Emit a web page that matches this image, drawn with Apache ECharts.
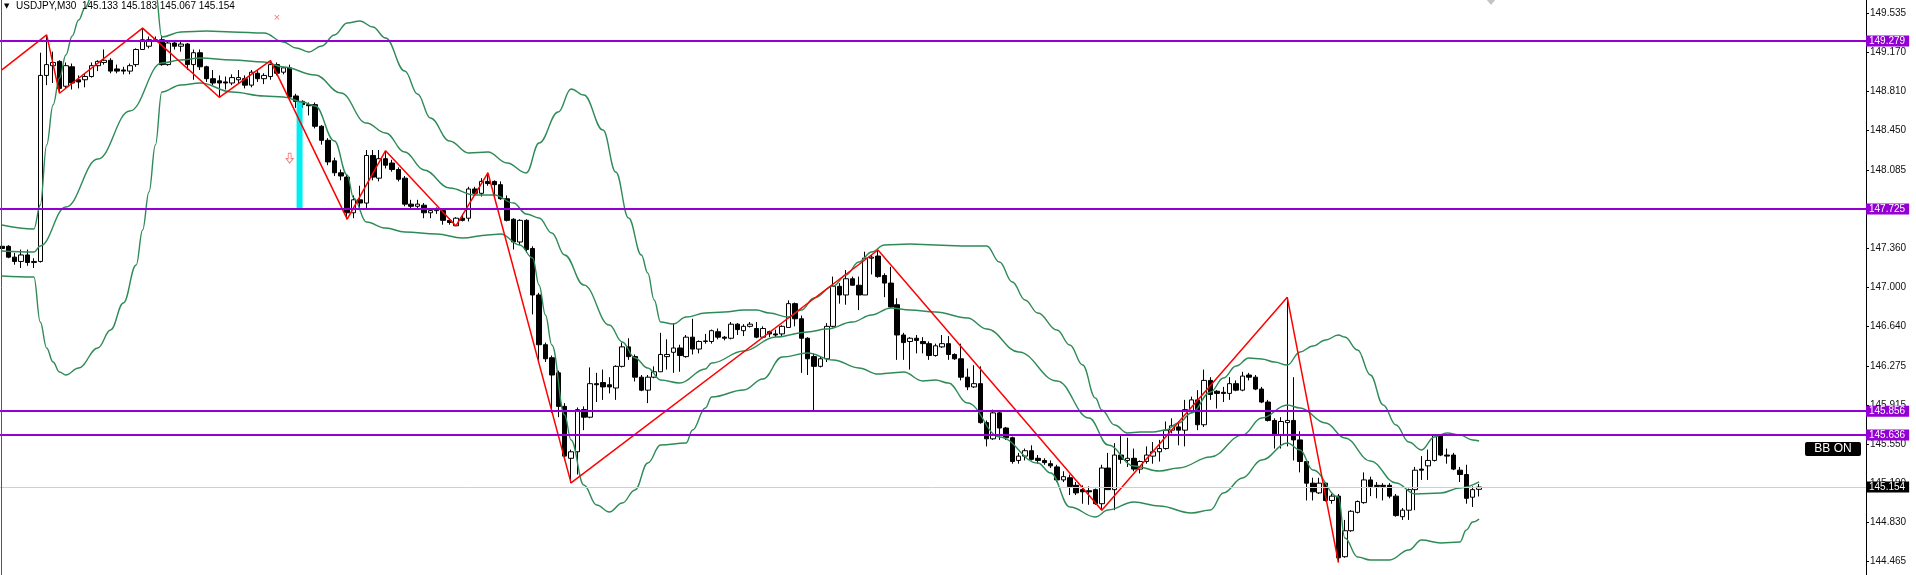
<!DOCTYPE html>
<html>
<head>
<meta charset="utf-8">
<title>USDJPY,M30</title>
<script src="https://cdn.jsdelivr.net/npm/echarts@6/dist/echarts.min.js"></script>
<style>
  html, body { margin: 0; padding: 0; background: #fff; }
  #chart { width: 1916px; height: 575px; }
</style>
</head>
<body>
<div id="chart"></div>
<script>
// header
const symbolTitle = 'USDJPY,M30';
const lastQuote = ['145.133', '145.183', '145.067', '145.154'];

// 30 min bars (oldest first)
const opens = [
  147.38,147.38,147.28,147.24,147.30,147.23,147.24,148.96,149.05,149.09,
  148.86,149.04,148.92,148.92,148.95,149.05,149.08,149.10,149.02,149.01,
  149.00,149.06,149.20,149.23,149.29,149.29,149.06,149.26,149.23,149.25,
  149.06,149.17,149.04,148.93,148.91,148.90,148.89,148.92,148.93,148.87,
  148.98,148.93,148.95,149.06,148.99,149.03,148.77,148.72,148.69,148.69,
  148.49,148.36,148.17,148.06,148.02,147.69,147.81,147.78,148.22,148.01,
  148.19,148.15,148.09,148.01,147.77,147.75,147.76,147.69,147.71,147.71,
  147.62,147.57,147.64,147.64,147.91,147.87,147.98,147.98,147.95,147.82,
  147.63,147.42,147.62,147.36,146.93,146.47,146.35,146.21,145.90,145.42,
  145.48,145.87,145.80,146.11,146.12,146.10,146.07,146.27,146.45,146.36,
  146.17,146.05,146.17,146.22,146.36,146.40,146.44,146.36,146.54,146.43,
  146.50,146.50,146.59,146.54,146.53,146.66,146.60,146.64,146.62,146.54,
  146.59,146.57,146.57,146.63,146.85,146.71,146.53,146.36,146.27,146.34,
  146.64,147.01,146.93,147.08,147.02,146.93,147.27,147.29,147.11,147.04,
  146.84,146.56,146.50,146.53,146.50,146.48,146.37,146.45,146.48,146.38,
  146.34,146.17,146.08,146.11,145.75,145.60,145.84,145.70,145.61,145.40,
  145.44,145.49,145.42,145.40,145.37,145.34,145.22,145.24,145.17,145.13,
  145.12,145.13,145.00,145.33,145.13,145.45,145.40,145.42,145.32,145.39,
  145.44,145.48,145.51,145.68,145.71,145.68,145.85,145.96,145.73,146.14,
  146.04,146.03,146.02,146.11,146.05,146.19,146.17,146.06,145.94,145.77,
  145.64,145.75,145.77,145.59,145.39,145.19,145.10,145.19,145.03,145.07,
  144.51,144.75,144.92,145.01,145.22,145.17,145.17,145.17,145.07,144.88,
  144.94,145.13,145.32,145.35,145.40,145.63,145.45,145.45,145.31,145.27,
  145.06,145.133
];
const closes = [
  147.36,147.28,147.24,147.30,147.23,147.24,148.96,149.06,149.08,148.84,
  149.05,148.89,148.90,148.95,149.05,149.09,149.10,149.00,149.00,149.00,
  149.05,149.20,149.29,149.29,149.28,149.06,149.26,149.23,149.25,149.06,
  149.17,149.04,148.93,148.89,148.89,148.89,148.94,148.94,148.87,148.99,
  148.93,148.96,149.06,148.98,149.03,148.76,148.72,148.69,148.68,148.49,
  148.36,148.16,148.06,148.03,147.69,147.81,147.78,148.22,148.02,148.19,
  148.13,148.09,148.00,147.77,147.75,147.77,147.69,147.71,147.72,147.62,
  147.60,147.64,147.62,147.91,147.87,147.98,147.96,147.95,147.82,147.62,
  147.42,147.62,147.35,146.93,146.47,146.34,146.19,145.90,145.44,145.48,
  145.87,145.80,146.11,146.10,146.08,146.08,146.27,146.45,146.36,146.17,
  146.05,146.17,146.22,146.38,146.38,146.44,146.37,146.54,146.43,146.50,
  146.505,146.60,146.54,146.53,146.66,146.61,146.64,146.66,146.54,146.62,
  146.57,146.56,146.64,146.85,146.71,146.53,146.34,146.27,146.34,146.64,
  147.01,146.93,147.08,147.02,146.93,147.27,147.28,147.10,147.04,146.82,
  146.56,146.49,146.53,146.51,146.48,146.37,146.46,146.48,146.38,146.34,
  146.17,146.08,146.11,145.75,145.60,145.84,145.70,145.61,145.39,145.44,
  145.49,145.41,145.40,145.38,145.35,145.22,145.25,145.16,145.10,145.11,
  145.11,145.00,145.33,145.13,145.45,145.41,145.42,145.32,145.39,145.45,
  145.48,145.51,145.68,145.72,145.68,145.87,145.96,145.73,146.14,146.01,
  146.02,146.02,146.11,146.05,146.18,146.17,146.06,145.94,145.77,145.64,
  145.76,145.77,145.59,145.39,145.19,145.11,145.19,145.03,145.07,144.50,
  144.75,144.93,145.02,145.22,145.16,145.16,145.16,145.07,144.89,144.94,
  145.13,145.31,145.31,145.40,145.63,145.45,145.44,145.32,145.27,145.05,
  145.13,145.154
];
const lows = [
  147.33,147.27,147.21,147.18,147.20,147.18,147.23,148.87,148.89,148.80,
  148.84,148.83,148.84,148.85,148.94,149.00,149.06,148.98,148.98,148.97,
  148.97,149.04,149.20,149.21,149.27,149.05,149.05,149.20,149.18,149.01,
  148.92,149.01,148.90,148.87,148.76,148.83,148.87,148.88,148.84,148.85,
  148.90,148.88,148.92,148.96,148.97,148.75,148.66,148.66,148.59,148.47,
  148.32,148.13,148.03,147.99,147.63,147.64,147.73,147.72,147.99,147.98,
  148.10,148.07,147.98,147.75,147.72,147.72,147.64,147.64,147.68,147.58,
  147.58,147.57,147.61,147.61,147.85,147.84,147.94,147.85,147.81,147.61,
  147.35,147.39,147.32,146.75,146.33,146.31,145.84,145.80,145.40,145.19,
  145.27,145.68,145.79,145.94,145.96,146.02,145.96,146.26,146.33,146.13,
  146.04,145.93,146.16,146.22,146.24,146.21,146.22,146.35,146.38,146.39,
  146.48,146.48,146.52,146.51,146.52,146.56,146.55,146.63,146.53,146.53,
  146.54,146.54,146.55,146.63,146.64,146.21,146.19,145.85,146.26,146.31,
  146.63,146.85,146.84,147.02,146.79,146.93,147.12,147.09,146.91,146.81,
  146.33,146.33,146.24,146.39,146.39,146.33,146.36,146.44,146.33,146.33,
  146.14,146.05,146.07,145.74,145.53,145.59,145.59,145.59,145.37,145.37,
  145.40,145.40,145.37,145.36,145.33,145.20,145.20,145.08,145.08,145.00,
  144.99,144.99,144.94,145.13,144.94,145.37,145.34,145.30,145.28,145.37,
  145.37,145.39,145.50,145.65,145.54,145.53,145.84,145.68,145.71,145.96,
  145.88,145.94,145.96,146.04,146.04,146.14,146.05,145.93,145.76,145.51,
  145.51,145.53,145.40,145.29,145.03,145.03,145.09,145.02,145.00,144.46,
  144.50,144.74,144.91,145.00,145.07,145.05,145.03,145.05,144.88,144.85,
  144.85,144.94,145.22,145.22,145.39,145.44,145.37,145.31,145.20,145.00,
  144.97,145.067
];
const highs = [
  147.41,147.39,147.32,147.35,147.35,147.27,149.17,149.33,149.18,149.10,
  149.08,149.07,148.96,148.98,149.08,149.10,149.20,149.12,149.06,149.04,
  149.07,149.21,149.40,149.32,149.32,149.33,149.28,149.28,149.27,149.26,
  149.20,149.20,149.05,149.01,148.96,148.95,148.97,149.01,148.96,149.01,
  149.01,148.98,149.10,149.08,149.04,149.06,148.79,148.73,148.71,148.71,
  148.50,148.38,148.20,148.09,148.04,147.85,147.94,148.27,148.27,148.27,
  148.26,148.18,148.11,148.03,147.81,147.81,147.78,147.73,147.74,147.73,
  147.64,147.65,147.67,147.93,147.93,148.01,148.06,147.99,147.98,147.85,
  147.64,147.63,147.63,147.38,146.95,146.49,146.37,146.23,145.93,145.50,
  145.89,145.90,146.26,146.21,146.24,146.17,146.28,146.49,146.53,146.38,
  146.19,146.19,146.27,146.58,146.52,146.67,146.47,146.56,146.71,146.51,
  146.57,146.61,146.62,146.55,146.68,146.67,146.66,146.68,146.68,146.64,
  146.60,146.61,146.65,146.88,146.86,146.74,146.54,146.39,146.36,146.67,
  147.10,147.04,147.16,147.10,147.10,147.33,147.30,147.35,147.13,147.19,
  146.90,146.58,146.54,146.56,146.54,146.50,146.48,146.56,146.55,146.39,
  146.48,146.25,146.28,146.27,145.77,145.87,145.85,145.71,145.62,145.47,
  145.51,145.54,145.45,145.42,145.40,145.36,145.30,145.27,145.20,145.17,
  145.16,145.14,145.36,145.47,145.56,145.64,145.61,145.51,145.40,145.53,
  145.57,145.59,145.76,145.79,145.76,145.96,145.99,146.05,146.24,146.17,
  146.05,146.08,146.17,146.14,146.22,146.21,146.19,146.08,145.96,145.79,
  145.80,146.91,146.17,145.67,145.40,145.24,145.24,145.20,145.09,145.09,
  144.85,144.94,145.03,145.29,145.25,145.20,145.19,145.19,145.09,144.96,
  145.14,145.34,145.44,145.50,145.64,145.64,145.51,145.47,145.34,145.36,
  145.16,145.183
];

// Bollinger bands, sampled along the drawn curves: [bar, price]
const bbUpper = [
  [0,147.577],[5,147.540],[6,147.762],[7,148.317],[8,148.687],[9,148.936],[10,149.149],[11,149.325],
  [12,149.473],[13,149.584],[14,149.685],[17,149.935],[20,150.027],[23,149.935],[24,149.759],[25,149.315],
  [28,149.362],[32,149.371],[36,149.362],[41,149.352],[44,149.269],[46,149.214],[48,149.177],[50,149.232],
  [52,149.334],[54,149.445],[56,149.463],[58,149.408],[60,149.306],[63,149.001],[65,148.788],[67,148.566],
  [70,148.354],[73,148.243],[76,148.252],[79,148.150],[82,148.058],[84,148.335],[87,148.622],[89,148.835],
  [91,148.779],[94,148.455],[96,148.067],[98,147.642],[100,147.300],[101,147.133],[102,146.884],[103,146.680],
  [105,146.662],[107,146.726],[110,146.763],[113,146.772],[116,146.791],[118,146.791],[120,146.763],[123,146.726],
  [125,146.791],[127,146.902],[130,147.013],[132,147.115],[134,147.235],[136,147.327],[138,147.392],[142,147.401],
  [146,147.392],[150,147.383],[154,147.383],[156,147.235],[158,147.050],[160,146.884],[162,146.763],[165,146.606],
  [167,146.467],[169,146.282],[171,145.977],[172,145.866],[174,145.728],[176,145.654],[178,145.663],[180,145.663],
  [182,145.681],[184,145.746],[186,145.839],[189,146.033],[191,146.162],[193,146.273],[195,146.347],[197,146.338],
  [199,146.310],[201,146.282],[203,146.403],[205,146.458],[207,146.514],[209,146.560],[210,146.541],[212,146.421],
  [214,146.190],[216,145.913],[218,145.728],[220,145.570],[222,145.497],[224,145.617],[226,145.654],[228,145.635],
  [230,145.589],[231,145.580]
];
const bbMid = [
  [0,147.337],[5,147.327],[6,147.383],[10,147.743],[15,148.187],[20,148.631],[25,149.075],[28,149.103],
  [31,149.121],[36,149.103],[41,149.084],[44,149.038],[49,148.964],[53,148.798],[57,148.520],[60,148.428],
  [63,148.252],[66,148.086],[70,147.919],[74,147.854],[77,147.854],[80,147.780],[82,147.679],[84,147.642],
  [86,147.503],[88,147.300],[91,147.022],[95,146.652],[97,146.495],[99,146.347],[101,146.255],[103,146.144],
  [106,146.116],[110,146.246],[111,146.301],[116,146.412],[121,146.541],[126,146.588],[129,146.615],[133,146.680],
  [136,146.745],[139,146.810],[142,146.791],[146,146.773],[151,146.717],[154,146.615],[159,146.403],[165,146.135],
  [170,145.792],[173,145.543],[177,145.349],[181,145.302],[184,145.330],[189,145.432],[194,145.635],[197,145.792],
  [201,145.913],[203,145.885],[207,145.746],[210,145.608],[214,145.395],[218,145.191],[221,145.090],[225,145.099],
  [228,145.145],[231,145.201]
];
const bbLower = [
  [0,147.106],[5,147.096],[6,146.680],[7,146.440],[8,146.310],[9,146.218],[10,146.190],[12,146.255],
  [15,146.440],[17,146.606],[19,146.856],[21,147.207],[22,147.531],[23,147.882],[24,148.317],[25,148.807],
  [28,148.872],[31,148.890],[36,148.807],[41,148.770],[44,148.761],[47,148.714],[49,148.677],[52,148.354],
  [54,148.039],[55,147.827],[57,147.605],[60,147.549],[63,147.512],[68,147.494],[72,147.457],[76,147.485],
  [78,147.494],[81,147.392],[83,147.272],[84,147.022],[85,146.745],[86,146.467],[88,145.820],[89,145.589],
  [91,145.173],[93,144.988],[95,144.923],[97,145.006],[99,145.127],[101,145.376],[103,145.543],[107,145.561],
  [108,145.681],[110,145.885],[111,145.987],[116,146.051],[119,146.153],[122,146.356],[126,146.393],[130,146.329],
  [134,146.255],[137,146.199],[139,146.209],[141,146.218],[144,146.135],[146,146.144],[148,146.116],[151,145.931],
  [156,145.617],[162,145.376],[164,145.284],[167,144.969],[171,144.877],[173,144.942],[177,145.016],[181,144.979],
  [186,144.914],[189,144.942],[191,145.099],[194,145.238],[197,145.404],[201,145.561],[203,145.497],[205,145.312],
  [209,145.062],[210,144.683],[212,144.507],[214,144.480],[217,144.480],[220,144.572],[222,144.664],[225,144.637],
  [228,144.646],[229,144.757],[230,144.831],[231,144.859]
];

// zigzag swing points
const zigzag = [
  [0,149.011],[7,149.335],[9,148.795],[22,149.397],[34,148.758],[42,149.097],[54,147.632],[60,148.264],
  [71,147.568],[76,148.060],[89,145.193],[137,147.346],[172,144.940],[201,146.908],[209,144.455]
];

const levels = [149.279, 147.725, 145.856, 145.636];
const bidPrice = 145.154;
const priceTicks = [149.535, 149.170, 148.810, 148.450, 148.085, 147.725, 147.360, 147.000,
  146.640, 146.275, 145.915, 145.550, 145.190, 144.830, 144.465];
const signalBar = [[46.55, 147.716, 148.714]];
const crossMarks = [[43, 149.497]];
const arrowMarks = [[45, 148.194]];

const slots = 292; // bars + empty shift on the right
const yMin = 144.3408;
const yMax = 149.6575;
const font = 'Liberation Sans';

const categories = Array.from({ length: slots }, (_, i) => i);
const candleData = opens.map((o, i) => [o, closes[i], lows[i], highs[i]]);

const chart = echarts.init(document.getElementById('chart'));

const bandLine = (data) => ({
  type: 'line',
  data: data,
  z: 3,
  showSymbol: false,
  smooth: 0.4,
  smoothMonotone: 'x',
  clip: true,
  silent: true,
  lineStyle: { color: '#2E8B57', width: 1.4 },
});

const priceLabel = (bg) => ({
  position: 'end', distance: 0, formatter: (p) => Number(p.value).toFixed(3),
  color: '#fff', backgroundColor: bg, padding: [1, 4, 0, 3],
  fontSize: 10, lineHeight: 10, fontFamily: font,
});

chart.setOption({
  animation: false,
  backgroundColor: '#fff',
  grid: { left: -1.3, right: 50, top: 0, bottom: 0, containLabel: false, outerBoundsMode: 'none' },
  xAxis: {
    type: 'category',
    data: categories,
    boundaryGap: true,
    show: false,
  },
  yAxis: {
    type: 'value',
    position: 'right',
    min: yMin,
    max: yMax,
    axisLine: { show: true, lineStyle: { color: '#000', width: 1 } },
    axisTick: { show: true, length: 3, customValues: priceTicks, lineStyle: { color: '#000' } },
    axisLabel: {
      customValues: priceTicks,
      formatter: (v) => v.toFixed(3),
      margin: 4,
      color: '#111',
      fontSize: 10,
      fontFamily: font,
    },
    splitLine: { show: false },
  },
  series: [
    {
      // bid line
      type: 'line',
      data: [],
      z: 1,
      markLine: {
        silent: true,
        precision: 3,
        symbol: ['none', 'none'],
        lineStyle: { color: '#cfcfcf', width: 1, type: 'solid' },
        label: priceLabel('#000'),
        data: [{ yAxis: bidPrice }],
      },
    },
    {
      type: 'candlestick',
      data: candleData,
      z: 2,
      barWidth: 5,
      silent: true,
      itemStyle: {
        color: '#fff', color0: '#000',
        borderColor: '#000', borderColor0: '#000', borderWidth: 1,
      },
    },
    bandLine(bbUpper),
    bandLine(bbMid),
    bandLine(bbLower),
    {
      type: 'custom',
      data: signalBar,
      z: 3,
      silent: true,
      encode: { x: 0, y: [1, 2] },
      renderItem: (params, api) => {
        const idx = api.value(0);
        const base = Math.floor(idx);
        const top = api.coord([base, api.value(2)]);
        const bot = api.coord([base, api.value(1)]);
        const band = api.size([1, 0])[0];
        const cx = top[0] + (idx - base) * band;
        return {
          type: 'rect',
          shape: { x: cx - 3, y: top[1], width: 6, height: bot[1] - top[1] },
          style: { fill: '#00EEF2' },
        };
      },
    },
    {
      type: 'line',
      data: zigzag,
      z: 4,
      showSymbol: false,
      silent: true,
      lineStyle: { color: '#FF0000', width: 1.5 },
    },
    {
      type: 'scatter',
      data: crossMarks,
      z: 4,
      silent: true,
      symbol: 'path://M0,1 L1,0 L5,4 L9,0 L10,1 L6,5 L10,9 L9,10 L5,6 L1,10 L0,9 L4,5 Z',
      symbolSize: 5,
      itemStyle: { color: '#FF4040' },
    },
    {
      type: 'scatter',
      data: arrowMarks,
      z: 4,
      silent: true,
      symbol: 'path://M3,0 L7,0 L7,7 L10,7 L5,13 L0,7 L3,7 Z',
      symbolSize: [7, 10],
      itemStyle: { color: '#fff', borderColor: '#FF5A5A', borderWidth: 1 },
    },
    {
      // horizontal levels
      type: 'line',
      data: [],
      z: 5,
      markLine: {
        silent: true,
        precision: 3,
        symbol: ['none', 'none'],
        lineStyle: { color: '#9400D3', width: 2, type: 'solid' },
        label: priceLabel('#9400D3'),
        data: levels.map((v) => ({ yAxis: v })),
      },
    },
  ],
  graphic: [
    {
      type: 'line', z: 10, silent: true,
      shape: { x1: 1.5, y1: 0, x2: 1.5, y2: 575 },
      style: { stroke: '#555', lineWidth: 1 },
    },
    {
      type: 'polygon', z: 10, silent: true,
      shape: { points: [[1486, -1], [1491, 5], [1496, -1]] },
      style: { fill: '#c4c4c4' },
    },
    {
      type: 'text', z: 10, left: 4, top: 3, silent: true,
      style: { text: '▼', fill: '#000', font: '7px "DejaVu Sans"' },
    },
    {
      type: 'text', z: 10, left: 16, top: 1, silent: true,
      style: { text: symbolTitle + '  ' + lastQuote.join(' '), fill: '#000', font: '10px "' + font + '"' },
    },
    {
      type: 'group', left: 1805, top: 442, z: 10, silent: true,
      children: [
        { type: 'rect', shape: { x: 0, y: 0, width: 56, height: 14, r: 2 }, style: { fill: '#000' } },
        {
          type: 'text', x: 28, y: 7,
          style: { text: 'BB ON', fill: '#fff', font: '12px "' + font + '"', align: 'center', verticalAlign: 'middle' },
        },
      ],
    },
  ],
});
</script>
</body>
</html>
